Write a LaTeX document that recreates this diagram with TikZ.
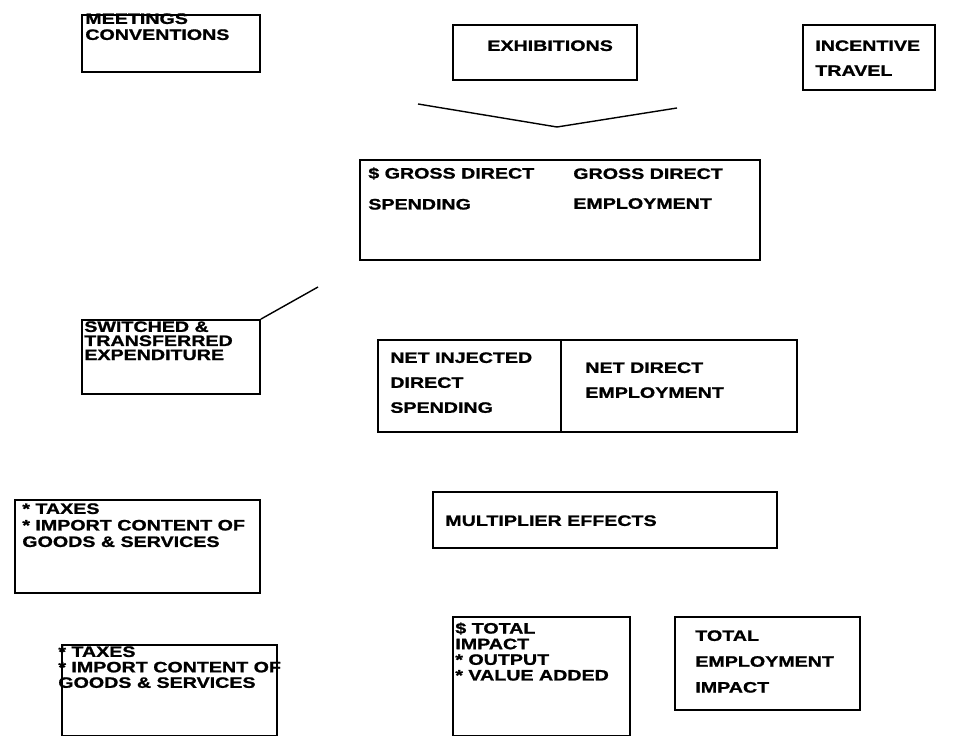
\documentclass[tikz,border=0pt]{standalone}
\usepackage{fontspec}
\setmainfont[FakeStretch=1.3,FakeBold=1.2]{Liberation Sans}
\usetikzlibrary{fit}

\begin{document}
\begin{tikzpicture}[x=0.02cm, y=-0.02cm,
   box/.style={draw, line width=1pt, inner sep=0pt},
   lbl/.style={anchor=north west, inner sep=0pt, align=left,
      font=\fontsize{8.6}{#1}\selectfont\bfseries},
   lbl/.default=9,
   conn/.style={line width=0.8pt}]
   \useasboundingbox (0,0) rectangle (965,736);
   % top row
   \node [box, fit={(82,15) (260,72)}] (meet) {};
   \node [lbl=9.1] (meettxt) at (85,13) {MEETINGS\\CONVENTIONS};
   \node [box, fit={(453,25) (637,80)}] (exhib) {};
   \node [lbl] (exhibtxt) at (487,40) {EXHIBITIONS};
   \node [box, fit={(803,25) (935,90)}] (incent) {};
   \node [lbl=14.2] (incenttxt) at (815,40) {INCENTIVE\\TRAVEL};
   \coordinate (vleft) at (418,104);
   \coordinate (vmid) at (557,127);
   \coordinate (vright) at (677,108);
   \draw[conn] (vleft) -- (vmid) -- (vright);
   % gross direct
   \node [box, fit={(360,160) (760,260)}] (gross) {};
   \node [lbl=17.6] (grossspend) at (368,167) {\$ GROSS DIRECT\\SPENDING};
   \node [lbl=17] (grossemp) at (573,168) {GROSS DIRECT\\EMPLOYMENT};
   % switched
   \node [box, fit={(82,320) (260,394)}] (switch) {};
   \node [lbl=8] (switchtxt) at (84,321) {SWITCHED \&\\TRANSFERRED\\EXPENDITURE};
   \coordinate (swend) at (318,287);
   \draw[conn] (switch.north east) -- (swend);
   % net direct
   \node [box, fit={(378,340) (797,432)}] (net) {};
   \coordinate (netdiv) at (561,0);
   \draw[line width=1pt] (net.north -| netdiv) -- (net.south -| netdiv);
   \node [lbl=14.2] (netspend) at (390,352) {NET INJECTED\\DIRECT\\SPENDING};
   \node [lbl=14.2] (netemp) at (585,362) {NET DIRECT\\EMPLOYMENT};
   % leakages and multiplier
   \node [box, fit={(15,500) (260,593)}] (leak) {};
   \node [lbl=9.4] (leaktxt) at (22,503) {* TAXES\\* IMPORT CONTENT OF\\GOODS \& SERVICES};
   \node [box, fit={(433,492) (777,548)}] (multi) {};
   \node [lbl] (multitxt) at (445,515) {MULTIPLIER EFFECTS};
   % bottom row
   \node [box, fit={(62,645) (277,736)}] (leaktwo) {};
   \node [lbl=8.8] (leaktwotxt) at (58,646) {* TAXES\\* IMPORT CONTENT OF\\GOODS \& SERVICES};
   \node [box, fit={(453,617) (630,736)}] (total) {};
   \node [lbl=8.9] (totaltxt) at (455,622) {\$ TOTAL\\IMPACT\\* OUTPUT\\* VALUE ADDED};
   \node [box, fit={(675,617) (860,710)}] (totemp) {};
   \node [lbl=14.7] (totemptxt) at (695,630) {TOTAL\\EMPLOYMENT\\IMPACT};
\end{tikzpicture}
\end{document}
